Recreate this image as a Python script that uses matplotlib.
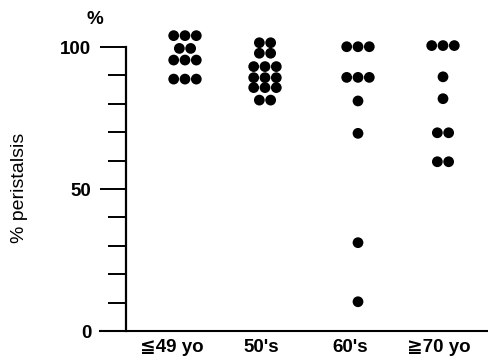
import matplotlib
matplotlib.use("Agg")
import matplotlib.pyplot as plt
from matplotlib.lines import Line2D
from collections import Counter

# ---- data (values as plotted) ----
groups = ["≦49 yo", "50's", "60's", "≧70 yo"]
g1 = [104, 104, 104, 99.5, 99.5, 95.4, 95.4, 95.4, 88.7, 88.7, 88.7]
g2 = [101.5, 101.5, 97.8, 97.8, 93.1, 93.1, 93.1, 89.2, 89.2, 89.2,
      85.7, 85.7, 85.7, 81.3, 81.3]
g3 = [100.1, 100.1, 100.1, 89.3, 89.3, 89.3, 81.0, 69.6, 31.1, 10.3]
g4 = [100.5, 100.5, 100.5, 89.5, 81.8, 69.8, 69.8, 59.6, 59.6]
series = [g1, g2, g3, g4]

# ---- layout ----
W, H, DPI = 489, 358, 100
dot_centers = [59, 139, 232, 317]      # x positions of dot columns (axis units)
label_centers = [46, 135, 224, 313]    # x positions of category labels
spacing = 11.3

plt.rcParams['font.family'] = ['Liberation Sans', 'DejaVu Sans']
fig = plt.figure(figsize=(W / DPI, H / DPI), dpi=DPI)
ax_left, ax_bottom = 126 / W, 27 / H
ax_w = (W - 126) / W
ymax = 110
ax_h = (ymax * 2.84) / H
ax = fig.add_axes([ax_left, ax_bottom, ax_w, ax_h])
ax.set_xlim(0, W - 126)
ax.set_ylim(0, ymax)

for cx, vals in zip(dot_centers, series):
    counts = Counter(vals)
    xs, ys = [], []
    for v, n in counts.items():
        for i in range(n):
            xs.append(cx + (i - (n - 1) / 2) * spacing)
            ys.append(v)
    ax.scatter(xs, ys, s=60, color='black', edgecolors='none', zorder=3, clip_on=False)

for s in ['top', 'right', 'bottom']:
    ax.spines[s].set_visible(False)
ax.spines['left'].set_linewidth(1.6)
ax.spines['left'].set_bounds(0, 100)

# bottom baseline extending left of the y-axis
fig.add_artist(Line2D([100 / W, 1.0], [ax_bottom, ax_bottom], color='black', lw=1.5,
                      transform=fig.transFigure))

ax.set_yticks([0, 50, 100])
ax.set_yticks(range(10, 100, 10), minor=True)
ax.set_yticklabels(['0', '50', '100'], fontsize=13.5, fontweight='bold')
ax.tick_params(axis='y', which='major', length=19, width=1.4, pad=6)
ax.tick_params(axis='y', which='minor', length=13, width=1.4)

ax.set_xticks(label_centers)
ax.set_xticklabels(groups, fontsize=13.5, fontweight='bold')
ax.tick_params(axis='x', length=0, pad=6)

ax.set_ylabel('% peristalsis', fontsize=14)
ax.yaxis.set_label_coords(-0.27, 0.458)
fig.text(95 / W, 1 - 20 / H, '%', fontsize=13.5, fontweight='bold', ha='center', va='center')

fig.savefig('out.png', dpi=DPI)
